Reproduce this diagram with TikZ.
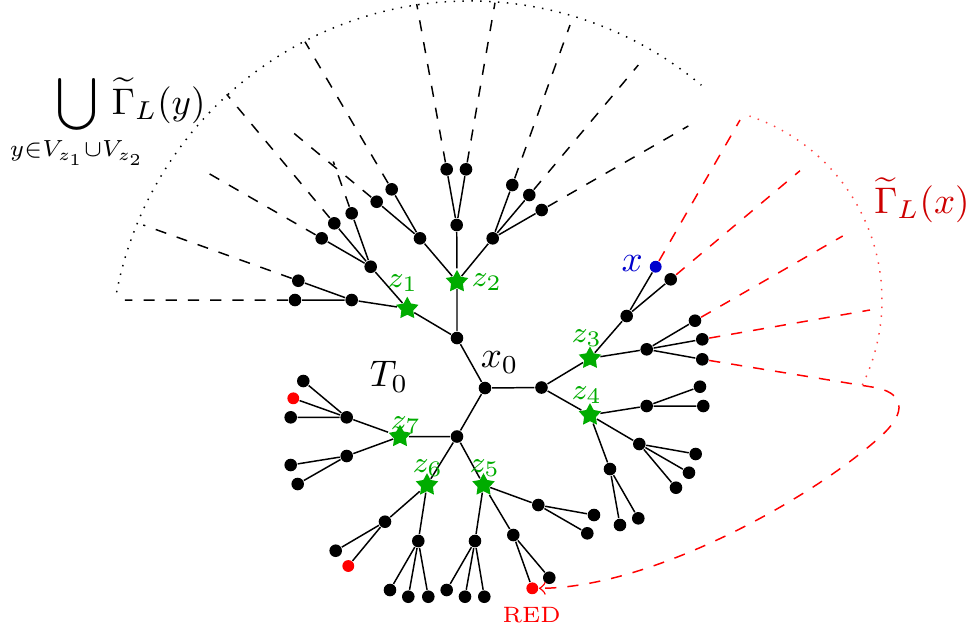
\documentclass[tikz,border=0pt]{standalone}
\usetikzlibrary{shapes.geometric}
\definecolor{zgreen}{RGB}{0,172,0}
\definecolor{xblue}{RGB}{0,0,205}
\definecolor{gred}{RGB}{205,0,0}
\begin{document}
\begin{tikzpicture}[x=0.27pt,y=-0.27pt,
  bnode/.style={circle,fill=black,inner sep=0pt,minimum size=3.4pt},
  rnode/.style={bnode,fill=red,minimum size=3.2pt},
  xnode/.style={bnode,fill=xblue,minimum size=3.2pt},
  zstar/.style={star,star points=5,star point ratio=1.9,fill=zgreen,inner sep=0pt,minimum size=6.4pt},
  zlab/.style={text=zgreen,font=\footnotesize,inner sep=0pt},
  tline/.style={line width=0.4pt},
  bdash/.style={dashed,line width=0.4pt},
  rdash/.style={dashed,red,line width=0.4pt}]
\useasboundingbox (0,0) rectangle (970,632);

% centre nodes
\node[bnode] (x0) at (485,388) {};
\node[bnode] (A) at (457,338) {};
\node[bnode] (B) at (541.5,387.5) {};
\node[bnode] (C) at (457,436.5) {};
\node[zstar] (z1) at (407.3,308.5) {};
\node[zstar] (z2) at (457,281.7) {};
\node[zstar] (z3) at (590,358.3) {};
\node[zstar] (z4) at (590,415) {};
\node[zstar] (z5) at (483.5,485) {};
\node[zstar] (z6) at (427,485) {};
\node[zstar] (z7) at (400,436.5) {};

% z1 subtree
\node[bnode] (d1) at (370.7,266.7) {};
\node[bnode] (d2) at (351.7,300) {};
\node[bnode] (d11) at (321.7,238.3) {};
\node[bnode] (d12) at (334.3,223.3) {};
\node[bnode] (d13) at (351.7,213.3) {};
\node[bnode] (d21) at (298.3,280.7) {};
\node[bnode] (d22) at (295,300) {};
% z2 subtree
\node[bnode] (e1) at (420,238.3) {};
\node[bnode] (e11) at (376.7,201.7) {};
\node[bnode] (e12) at (391.7,189.3) {};
\node[bnode] (e2) at (456.7,225) {};
\node[bnode] (e21) at (446.7,169.3) {};
\node[bnode] (e22) at (466,169.3) {};
\node[bnode] (e3) at (492.7,238.3) {};
\node[bnode] (e31) at (512.3,185) {};
\node[bnode] (e32) at (529.3,195) {};
\node[bnode] (e33) at (541.7,210) {};
% z3 subtree
\node[bnode] (f1) at (626.7,316) {};
\node[xnode] (xx) at (655.7,266.7) {};
\node[bnode] (f12) at (670.7,279.3) {};
\node[bnode] (f2) at (646.7,349.3) {};
\node[bnode] (f21) at (695,320.7) {};
\node[bnode] (f22) at (702.3,339.3) {};
\node[bnode] (f23) at (702.3,359.3) {};
% z4 subtree
\node[bnode] (g1) at (646.7,406) {};
\node[bnode] (g11) at (700,386.7) {};
\node[bnode] (g12) at (703.3,406) {};
\node[bnode] (g2) at (639.3,444) {};
\node[bnode] (g21) at (695.7,454) {};
\node[bnode] (g22) at (689,472.7) {};
\node[bnode] (g23) at (676,487.7) {};
\node[bnode] (g3) at (610,469) {};
\node[bnode] (g31) at (620,525) {};
\node[bnode] (g32) at (638.3,518.3) {};
% z7 subtree
\node[bnode] (h1) at (346.7,417.3) {};
\node[bnode] (h11) at (303.3,381) {};
\node[rnode] (h12) at (293.3,398.3) {};
\node[bnode] (h13) at (290.7,417.3) {};
\node[bnode] (h2) at (346.7,456) {};
\node[bnode] (h21) at (290.7,465) {};
\node[bnode] (h22) at (297.7,484) {};
% z6 subtree
\node[bnode] (i1) at (385,521.7) {};
\node[bnode] (i11) at (335.7,550.7) {};
\node[rnode] (i12) at (348.3,566) {};
\node[bnode] (i2) at (418.3,541) {};
\node[bnode] (i21) at (390,590) {};
\node[bnode] (i22) at (408.3,596.7) {};
\node[bnode] (i23) at (428.3,596.7) {};
% z5 subtree
\node[bnode] (j1) at (475,541) {};
\node[bnode] (j11) at (446.7,590) {};
\node[bnode] (j12) at (465,596.7) {};
\node[bnode] (j13) at (484.3,596.7) {};
\node[bnode] (j2) at (513.3,535) {};
\node[bnode] (j21) at (549.3,577.7) {};
\node[rnode] (red) at (532.3,588.3) {};
\node[bnode] (j3) at (538.3,505) {};
\node[bnode] (j31) at (594,515) {};
\node[bnode] (j32) at (587.3,533.3) {};

% tree edges
\draw[tline] (x0)--(A) (x0)--(B) (x0)--(C)
  (A)--(z1) (A)--(z2) (B)--(z3) (B)--(z4) (C)--(z7) (C)--(z6) (C)--(z5)
  (z1)--(d1) (z1)--(d2) (d1)--(d11) (d1)--(d12) (d1)--(d13) (d2)--(d21) (d2)--(d22)
  (z2)--(e1) (e1)--(e11) (e1)--(e12) (z2)--(e2) (e2)--(e21) (e2)--(e22)
  (z2)--(e3) (e3)--(e31) (e3)--(e32) (e3)--(e33)
  (z3)--(f1) (f1)--(xx) (f1)--(f12) (z3)--(f2) (f2)--(f21) (f2)--(f22) (f2)--(f23)
  (z4)--(g1) (g1)--(g11) (g1)--(g12) (z4)--(g2) (g2)--(g21) (g2)--(g22) (g2)--(g23)
  (z4)--(g3) (g3)--(g31) (g3)--(g32)
  (z7)--(h1) (h1)--(h11) (h1)--(h12) (h1)--(h13) (z7)--(h2) (h2)--(h21) (h2)--(h22)
  (z6)--(i1) (i1)--(i11) (i1)--(i12) (z6)--(i2) (i2)--(i21) (i2)--(i22) (i2)--(i23)
  (z5)--(j1) (j1)--(j11) (j1)--(j12) (j1)--(j13) (z5)--(j2) (j2)--(j21) (j2)--(red)
  (z5)--(j3) (j3)--(j31) (j3)--(j32);

% black dashed rays
\coordinate (k1) at (125,300);
\coordinate (k2) at (143.3,225);
\coordinate (k3) at (204,170.7);
\coordinate (k4) at (226.7,94.3);
\coordinate (k5) at (333.3,161.5);
\coordinate (k6) at (290,130);
\coordinate (k7) at (305,41.7);
\coordinate (k8) at (416.7,4);
\coordinate (k9) at (495,2.7);
\coordinate (k10) at (570,25);
\coordinate (k11) at (638.3,65);
\coordinate (k12) at (688.3,126);
\draw[bdash] (d22)--(k1) (d21)--(k2) (d11)--(k3) (d12)--(k4) (d13)--(k5)
  (e11)--(k6) (e12)--(k7) (e21)--(k8) (e22)--(k9) (e31)--(k10) (e32)--(k11) (e33)--(k12);

% black dotted arc
\coordinate (c1) at (470,361);
\draw[dotted,line width=0.4pt] (c1) ++(-169:360) arc[start angle=-169,end angle=-50,radius=360];

% red dashed rays
\coordinate (r1) at (740,120);
\coordinate (r2) at (800,170.7);
\coordinate (r3) at (842.7,236);
\coordinate (r4) at (870,310);
\draw[rdash] (xx)--(r1) (f12)--(r2) (f21)--(r3) (f22)--(r4);
\coordinate (c2) at (688,300);
\draw[dotted,red!75,line width=0.4pt] (c2) ++(26:194) arc[start angle=26,end angle=-71.5,radius=194];
\coordinate (t1) at (872,387);
\coordinate (t2) at (880,437);
\draw[rdash,->] (f23) -- (t1) .. controls (905,392) and (908,412) .. (t2)
  .. controls (810,500) and (650,588) .. (red);

% labels
\node[zlab] (lz1) at (403,282.7) {$z_1$};
\node[zlab] (lz2) at (487,282) {$z_2$};
\node[zlab] (lz3) at (587,338.3) {$z_3$};
\node[zlab] (lz4) at (587,395) {$z_4$};
\node[zlab] (lz5) at (485,468) {$z_5$};
\node[zlab] (lz6) at (428,468) {$z_6$};
\node[zlab] (lz7) at (406,425) {$z_7$};
\node[inner sep=0pt] (lx0) at (499.7,362.7) {$x_0$};
\node[inner sep=0pt] (lT0) at (389,376.7) {$T_0$};
\node[inner sep=0pt,text=xblue] (lx) at (632.3,263.3) {$x$};
\node[inner sep=0pt,text=red,font=\fontsize{6}{7}\selectfont] (lred) at (531.7,615) {RED};
\node[inner sep=0pt,text=gred] (lgx) at (922,200) {$\widetilde{\Gamma}_L(x)$};
\node[inner sep=0pt] (lgy) at (131,122) {$\displaystyle\bigcup_{\makebox[0pt]{\scalebox{0.9}{$\scriptstyle y\in V_{z_1}\cup V_{z_2}$}}}\mkern4mu\widetilde{\Gamma}_L(y)$};
\end{tikzpicture}
\end{document}
